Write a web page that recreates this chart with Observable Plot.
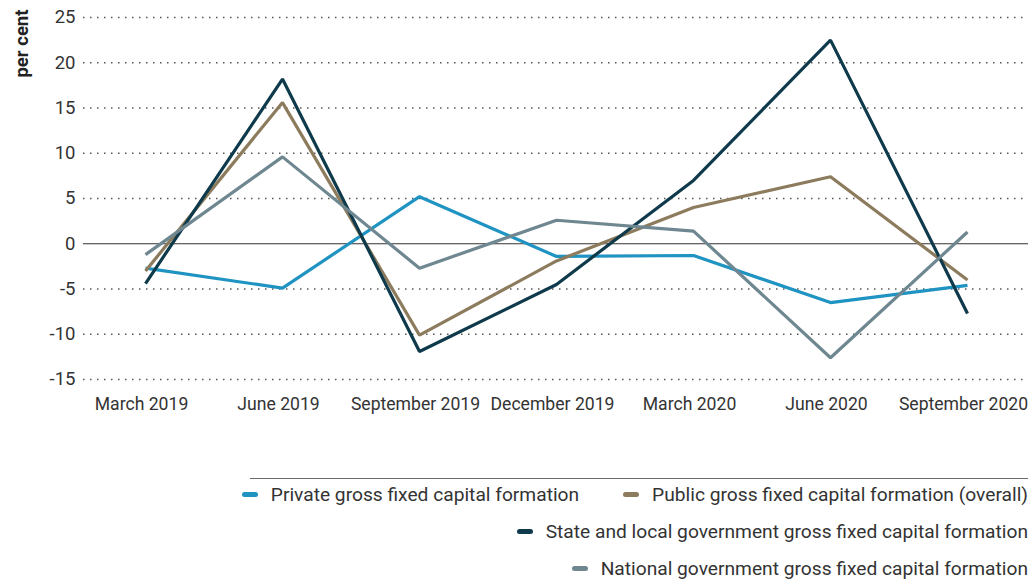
<!DOCTYPE html>
<html>
<head>
<meta charset="utf-8">
<script src="https://cdn.jsdelivr.net/npm/d3@7"></script>
<script src="https://cdn.jsdelivr.net/npm/@observablehq/plot@0.6"></script>
<style>
  html, body { margin: 0; padding: 0; background: #fff; }
  body { width: 1036px; height: 581px; overflow: hidden; font-family: Roboto, "Liberation Sans", sans-serif; color: #333; }
  #legend { position: relative; margin-left: 250px; width: 778px; margin-top: 48px; border-top: 1px solid #6b6b6b; }
  .row { display: flex; justify-content: flex-end; align-items: center; height: 37px; gap: 44px; font-size: 19.2px; color: #333; }
  .row:first-child { margin-top: -3px; }
  .item { display: flex; align-items: center; white-space: nowrap; }
  .sw { display: inline-block; width: 16px; height: 5px; border-radius: 2.5px; margin-right: 13px; }
</style>
</head>
<body>
<div id="chart"></div>
<div id="legend"></div>
<script>
const quarters = ["March 2019", "June 2019", "September 2019", "December 2019", "March 2020", "June 2020", "September 2020"];
const seriesNames = [
  "Private gross fixed capital formation",
  "Public gross fixed capital formation (overall)",
  "State and local government gross fixed capital formation",
  "National government gross fixed capital formation"
];
const privateGFCF  = [-2.7, -4.9, 5.2, -1.4, -1.3, -6.5, -4.6];
const publicGFCF   = [-3.0, 15.6, -10.1, -1.9, 4.0, 7.4, -4.0];
const stateGFCF    = [-4.4, 18.2, -11.9, -4.5, 7.0, 22.5, -7.7];
const nationalGFCF = [-1.2, 9.6, -2.7, 2.6, 1.4, -12.6, 1.3];
const yTicks = [-15, -10, -5, 0, 5, 10, 15, 20, 25];
const colors = ["#1f93c1", "#8c7b5c", "#0e3a4b", "#6f8790"];
const legendRows = [[0, 1], [2], [3]];

const allSeries = [privateGFCF, publicGFCF, stateGFCF, nationalGFCF];
const rows = [];
allSeries.forEach((vals, si) => vals.forEach((v, i) => rows.push({series: seriesNames[si], quarter: quarters[i], value: v})));

const chart = Plot.plot({
  width: 1036,
  height: 430,
  marginLeft: 83,
  marginRight: 8,
  marginTop: 17,
  marginBottom: 51,
  style: {fontFamily: 'Roboto, "Liberation Sans", sans-serif', fontSize: "16px", color: "#333", background: "#fff"},
  x: {type: "point", domain: quarters, padding: 0.44, label: null},
  y: {domain: [-15, 25], label: null},
  color: {domain: seriesNames, range: colors},
  marks: [
    Plot.ruleY(yTicks.filter(d => d !== 0), {stroke: "#555", strokeWidth: 1.3, strokeDasharray: "1.5,5.5"}),
    Plot.ruleY([0], {stroke: "#333", strokeWidth: 1}),
    Plot.axisY({ticks: yTicks, tickSize: 0, tickPadding: 8, tickFormat: d => String(d), fontSize: 18.5}),
    Plot.axisX({tickSize: 0, tickPadding: 18, fontSize: 17.6, dx: -4}),
    Plot.line(rows, {x: "quarter", y: "value", z: "series", stroke: "series", strokeWidth: 3.2, strokeLinejoin: "miter", strokeLinecap: "butt"}),
    Plot.text(["per cent"], {frameAnchor: "top-left", rotate: -90, textAnchor: "end", lineAnchor: "middle", dx: -61, dy: -8, fontWeight: "bold", fontSize: 18.5, fill: "#222"})
  ]
});
document.getElementById("chart").appendChild(chart);

const legend = document.getElementById("legend");
legendRows.forEach(r => {
  const row = document.createElement("div");
  row.className = "row";
  r.forEach(i => {
    const it = document.createElement("div");
    it.className = "item";
    const sw = document.createElement("span");
    sw.className = "sw";
    sw.style.background = colors[i];
    const t = document.createElement("span");
    t.textContent = seriesNames[i];
    it.appendChild(sw);
    it.appendChild(t);
    row.appendChild(it);
  });
  legend.appendChild(row);
});
</script>
</body>
</html>
